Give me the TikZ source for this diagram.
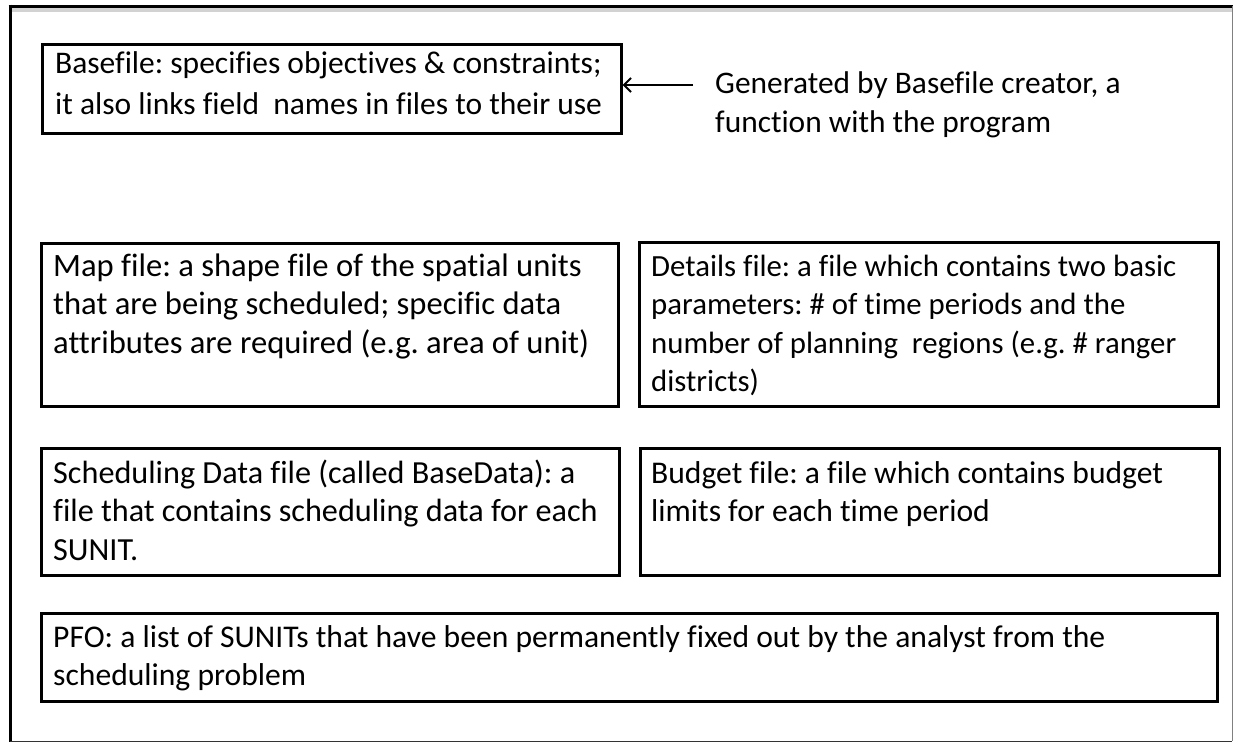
\documentclass[tikz,border=0pt]{standalone}
\usepackage{fontspec}
\setmainfont{Carlito}[Ligatures=NoCommon]
\usetikzlibrary{arrows.meta,calc}
\newcommand{\mylines}[1]{\parbox[t]{1150pt}{\frenchspacing #1}}
\begin{document}
\begin{tikzpicture}[x=1pt,y=-1pt,
  box/.style={draw=black, line width=2.6pt, rectangle, inner sep=0pt, anchor=north west},
  txt/.style={inner sep=0pt, anchor=base west, font=\fontsize{31.6}{38.5}\selectfont},
  arr/.style={line width=2pt, -{Straight Barb[length=7pt,width=14pt,line width=2pt]}},
  frame/.style={line width=3pt, draw=black}]
\useasboundingbox (0,0) rectangle (1236,742);
% outer frame
\fill[gray!35] (10,7) rectangle (1232,12);
\draw[frame] (8.5,6) -- (1233,6);
\draw[frame] (10,4.5) -- (10,742);
\draw[line width=1pt, draw=gray] (1232,6) -- (1232,741);
\draw[line width=1pt, draw=black!80] (10,741) -- (1232,741);
% boxes
\node[box, minimum width=579pt, minimum height=89pt] (base) at (41,43) {};
\node[box, minimum width=577pt, minimum height=163pt] (map) at (40,242) {};
\node[box, minimum width=579pt, minimum height=164pt] (det) at (638,241) {};
\node[box, minimum width=578pt, minimum height=127pt] (sched) at (40,447) {};
\node[box, minimum width=579pt, minimum height=127pt] (bud) at (639,447) {};
\node[box, minimum width=1176pt, minimum height=88pt] (pfo) at (40,612) {};
% texts
\node[txt, font=\fontsize{31.5}{41}\selectfont] (basetxt) at (55,73) {\mylines{Basefile: specifies objectives \& constraints;\\it also links field \ names in files to their use}};
\node[txt, font=\fontsize{31.4}{39}\selectfont] (gen) at (715,93) {\mylines{Generated by Basefile creator, a\\function with the program}};
\node[txt, font=\fontsize{32.6}{38.5}\selectfont] (maptxt) at (53,276) {\mylines{Map file: a shape file of the spatial units\\that are being scheduled; specific data\\attributes are required (e.g. area of unit)}};
\node[txt, font=\fontsize{30.8}{38.5}\selectfont] (dettxt) at (651,276) {\mylines{Details file: a file which contains two basic\\parameters: \# of time periods and the\\number of planning \ regions (e.g. \# ranger\\districts)}};
\node[txt, font=\fontsize{32.2}{38.5}\selectfont] (schedtxt) at (53,483) {\mylines{Scheduling Data file (called BaseData): a\\file that contains scheduling data for each\\SUNIT.}};
\node[txt] (budtxt) at (651,483) {\mylines{Budget file: a file which contains budget\\limits for each time period}};
\node[txt] (pfotxt) at (53,647) {\mylines{PFO: a list of SUNITs that have been permanently fixed out by the analyst from the\\scheduling problem}};
% connector
\coordinate (genstart) at (693,85);
\draw[arr] (genstart) -- (genstart -| base.east);
\end{tikzpicture}
\end{document}
